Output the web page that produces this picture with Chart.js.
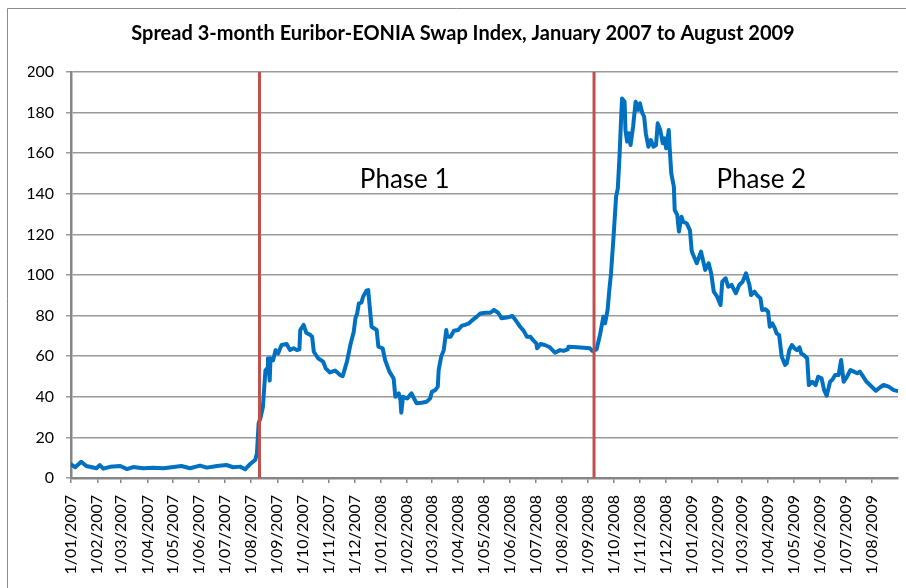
<!DOCTYPE html>
<html><head><meta charset="utf-8">
<script src="https://cdn.jsdelivr.net/npm/chart.js@4.4.1/dist/chart.umd.min.js"></script>
<style>html,body{margin:0;padding:0;background:#fff;overflow:hidden}</style>
</head><body>
<canvas id="c" width="906" height="588"></canvas>
<script>
const chartTitle = 'Spread 3-month Euribor-EONIA Swap Index, January 2007 to August 2009';
const tickLabels = ['1/01/2007','1/02/2007','1/03/2007','1/04/2007','1/05/2007','1/06/2007','1/07/2007','1/08/2007',
  '1/09/2007','1/10/2007','1/11/2007','1/12/2007','1/01/2008','1/02/2008','1/03/2008','1/04/2008','1/05/2008',
  '1/06/2008','1/07/2008','1/08/2008','1/09/2008','1/10/2008','1/11/2008','1/12/2008','1/01/2009','1/02/2009',
  '1/03/2009','1/04/2009','1/05/2009','1/06/2009','1/07/2009','1/08/2009'];
// days since 1 January 2007
const days = [0,5,12,18,30,34,38,46,58,66,73,85,97,109,121,130,140,152,160,172,183,191,199,205,211,217,219,221,223,226,
  229,231,232,234,235,238,241,244,248,254,258,262,266,269,270,274,277,282,284,286,291,297,300,305,311,317,320,325,329,333,
  335,337,339,342,344,348,350,354,360,362,367,370,375,380,382,386,388,389,391,396,401,404,407,413,419,423,425,429,432,433,
  436,439,442,443,447,451,456,460,464,468,472,478,482,488,494,498,503,506,507,515,520,524,529,533,537,541,544,548,549,553,
  558,564,570,576,580,585,586,596,604,611,614,619,623,627,629,632,634,636,639,640,642,644,646,648,649,652,653,655,657,659,
  662,665,668,670,673,675,677,680,683,686,689,691,694,697,699,701,704,705,707,710,711,714,716,719,721,725,729,731,732,737,
  742,747,751,754,757,761,765,767,771,774,778,783,787,791,795,799,801,805,808,812,814,818,821,823,826,829,831,834,837,841,
  843,846,849,852,855,858,860,863,867,869,873,877,880,884,887,890,894,897,900,904,907,910,914,918,922,926,929,933,937,941,
  948,953,957,963,969,973];
const spread = [6.7,5.3,8.0,5.9,4.8,6.4,4.6,5.5,5.9,4.4,5.4,4.8,5.1,4.8,5.4,5.9,4.8,6.1,5.1,5.9,6.4,5.3,5.6,4.3,6.9,8.9,12.2,27,29.4,35,
  53,54,59,48,59,58,63,61.4,65.5,66,63,63.9,63,63.4,72.9,75.4,71.6,70.4,69.6,62.2,59,57.3,54,52,52.9,50.7,50.2,57.3,65.5,72,
  78.7,81,86,86.4,89.3,92.3,92.6,74.5,72.9,64.7,63.9,58,52.4,49,40,41.7,38.4,32.2,40,39.2,41.7,39.2,36.8,37.1,37.6,39.2,42.5,43.3,45,53.2,
  59.8,63,72.9,69.6,69.6,72.5,72.9,74.9,75.4,76,77.5,79.5,81,81.4,81.4,82.8,81.4,79.5,78.7,79.2,79.8,77.5,74.5,72.6,69.6,69.6,68,66.3,63.9,66,
  65.5,64.4,61.7,63,62.6,63.4,64.7,64.4,64.2,63.9,62.6,63.4,70.4,79.5,76.2,82.8,92.6,100.8,118.9,125.5,138.6,142.7,158.3,178,187,185.4,171.4,165.7,169.8,164,
  173,185.4,181.3,184.6,179.6,178,169.8,163.2,166.5,163.2,164,174.7,171.4,164.9,167.3,162.4,171.4,163.2,150,143.5,132,129.6,121.4,128.7,126.2,125.5,122,112,110.7,105.8,
  111.5,102.5,105.8,100.8,91.8,89.3,85.2,96.7,98.4,94.2,95.1,91,95.1,96.7,100.8,95.1,90.1,91.8,90.1,88.5,82.8,83.1,81.9,74.5,76.2,73.7,71.3,70.4,59.8,55.7,
  56.5,63,65.5,63.9,63,64.4,61.4,60.6,59,45.8,47.4,45.8,49.9,49.1,43.3,40.5,47.4,48.6,50.7,50.7,58.1,47.4,49.9,53.2,52.4,51.6,52.4,49.9,47.4,45.8,
  43,44.7,45.8,45,43.3,42.9];
const yTicks = [0,20,40,60,80,100,120,140,160,180,200];
const phaseBreakDays = [222, 616];
const phaseNames = ['Phase 1', 'Phase 2'];
const phaseLabelDays = [393, 813];
const phaseLabelLevel = 142.7;

const DAY = 86400000;
const base = Date.UTC(2007, 0, 1);
const tickDays = tickLabels.map(s => { const p = s.split('/'); return Math.round((Date.UTC(+p[2], +p[1] - 1, +p[0]) - base) / DAY); });

const seriesData = days.map((d, i) => ({x: d, y: spread[i]}));
const breakSets = phaseBreakDays.map(d => ({
  data: [{x: d, y: yTicks[0]}, {x: d, y: yTicks[yTicks.length - 1]}],
  borderColor: '#C0504D', borderWidth: 3, pointRadius: 0, order: 0
}));

const framePlugin = {
  id: 'frame',
  beforeDraw(chart) {
    const ctx = chart.ctx; ctx.save();
    ctx.fillStyle = '#fff'; ctx.fillRect(0, 0, chart.width, chart.height);
    ctx.strokeStyle = '#8c8c8c'; ctx.lineWidth = 1;
    ctx.beginPath(); ctx.moveTo(7.5, chart.height); ctx.lineTo(7.5, 8.5); ctx.lineTo(chart.width, 8.5); ctx.stroke();
    ctx.restore();
  }
};
const phasePlugin = {
  id: 'phases',
  afterDatasetsDraw(chart) {
    const ctx = chart.ctx, xs = chart.scales.x, ys = chart.scales.y;
    ctx.save();
    ctx.font = '26px Lato'; ctx.fillStyle = '#000'; ctx.textAlign = 'center'; ctx.textBaseline = 'alphabetic';
    phaseNames.forEach((n, i) => ctx.fillText(n, xs.getPixelForValue(phaseLabelDays[i]), ys.getPixelForValue(phaseLabelLevel)));
    ctx.restore();
  }
};

new Chart(document.getElementById('c'), {
  type: 'line',
  data: { datasets: [...breakSets, {
    data: seriesData, borderColor: '#0070C0', borderWidth: 4, pointRadius: 0, tension: 0, order: 1,
    borderJoinStyle: 'round', borderCapStyle: 'round'
  }]},
  options: {
    responsive: false, animation: false, devicePixelRatio: 1,
    layout: { padding: { left: 28, right: 8, top: 0, bottom: 0 } },
    plugins: {
      legend: { display: false }, tooltip: { enabled: false },
      title: { display: true, text: chartTitle, color: '#000', font: { family: 'Lato', size: 20, weight: 'bold' }, padding: { top: 22, bottom: 26 } }
    },
    scales: {
      x: {
        type: 'linear', min: 0, max: 974,
        afterBuildTicks(s) { s.ticks = tickDays.map(v => ({value: v})); },
        afterFit(s) { s.height = 110; },
        ticks: {
          autoSkip: false, maxRotation: 90, minRotation: 90, padding: 12, color: '#000',
          font: { family: 'Lato', size: 16 },
          callback(v) { const i = tickDays.indexOf(v); return i >= 0 ? tickLabels[i] : ''; }
        },
        grid: { drawOnChartArea: false, drawTicks: true, tickLength: 5, color: '#868686', lineWidth: 1.5 },
        border: { color: '#868686', width: 2.5 }
      },
      y: {
        min: 0, max: 200,
        afterBuildTicks(s) { s.ticks = yTicks.map(v => ({value: v})); },
        afterFit(s) { s.width = 43; },
        ticks: { padding: 12, color: '#000', font: { family: 'Lato', size: 16 } },
        grid: { color: '#9A9A9A', lineWidth: 1.5, tickLength: 5 },
        border: { color: '#868686', width: 2.5 }
      }
    }
  },
  plugins: [framePlugin, phasePlugin]
});
</script>
</body></html>
